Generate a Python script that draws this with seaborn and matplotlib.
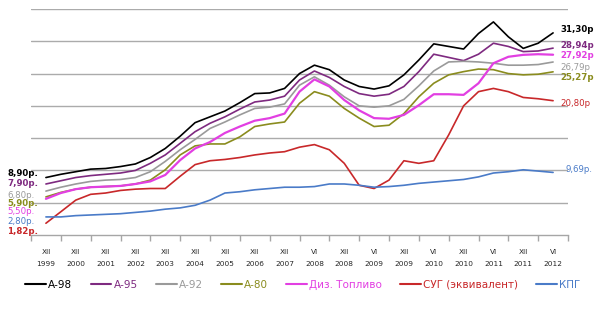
import numpy as np
import pandas as pd
import matplotlib
matplotlib.use("Agg")
import matplotlib.pyplot as plt
import seaborn as sns
from matplotlib.lines import Line2D

# ---- data ----
months = ["XII", "XII", "XII", "XII", "XII", "XII", "XII", "XII", "XII",
          "VI", "XII", "VI", "XII", "VI", "XII", "VI", "XII", "VI"]
years = ["1999", "2000", "2001", "2002", "2003", "2004", "2005", "2006", "2007",
         "2008", "2008", "2009", "2009", "2010", "2010", "2011", "2011", "2012"]
# half-period sampling points (category index)
t = [i / 2 for i in range(35)]

a98 = [8.90, 9.4, 9.8, 10.2, 10.3, 10.6, 11.0, 12.0, 13.4, 15.3, 17.4, 18.3, 19.2, 20.5, 21.9, 22.0, 22.7,
       25.0, 26.3, 25.6, 24.0, 23.0, 22.6, 23.1, 24.8, 27.1, 29.6, 29.2, 28.8, 31.2, 33.0, 30.7, 28.9, 29.7, 31.30]
a95 = [7.90, 8.4, 8.9, 9.2, 9.4, 9.6, 10.0, 11.1, 12.4, 14.2, 16.0, 17.3, 18.3, 19.5, 20.6, 20.9, 21.5,
       24.0, 25.4, 24.4, 23.0, 21.9, 21.5, 21.8, 23.0, 25.3, 28.0, 27.5, 27.0, 28.0, 29.7, 29.2, 28.4, 28.5, 28.94]
a92 = [6.80, 7.4, 7.9, 8.3, 8.5, 8.6, 8.9, 9.8, 11.4, 13.2, 14.8, 16.5, 17.5, 18.6, 19.6, 19.8, 20.3,
       23.2, 24.5, 23.2, 21.4, 20.0, 19.8, 20.0, 21.0, 23.1, 25.4, 26.8, 26.9, 26.8, 26.6, 26.3, 26.3, 26.4, 26.79]
a80 = [5.90, 6.6, 7.1, 7.4, 7.5, 7.6, 7.9, 8.5, 10.1, 12.4, 13.8, 14.1, 14.1, 15.2, 16.8, 17.2, 17.5,
       20.4, 22.2, 21.5, 19.6, 18.1, 16.8, 17.0, 18.8, 21.4, 23.5, 24.8, 25.3, 25.7, 25.6, 25.0, 24.8, 24.9, 25.27]
diesel = [5.60, 6.5, 7.1, 7.4, 7.5, 7.6, 7.9, 8.3, 9.3, 11.6, 13.4, 14.4, 15.8, 16.8, 17.7, 18.1, 18.8,
          22.2, 24.1, 23.0, 20.9, 19.3, 18.1, 18.0, 18.6, 20.1, 21.8, 21.8, 21.7, 23.5, 26.6, 27.6, 27.9, 28.0, 27.92]
sug = [1.82, 3.6, 5.4, 6.3, 6.5, 6.9, 7.1, 7.2, 7.2, 9.1, 10.9, 11.5, 11.7, 12.0, 12.4, 12.7, 12.9,
       13.6, 14.0, 13.2, 11.1, 7.7, 7.2, 8.5, 11.5, 11.1, 11.5, 15.5, 20.0, 22.2, 22.7, 22.2, 21.3, 21.1, 20.80]
kpg = [2.80, 2.8, 3.0, 3.1, 3.2, 3.3, 3.5, 3.7, 4.0, 4.2, 4.6, 5.4, 6.5, 6.7, 7.0, 7.2, 7.4,
       7.4, 7.5, 7.9, 7.9, 7.7, 7.4, 7.5, 7.7, 8.0, 8.2, 8.4, 8.6, 9.0, 9.6, 9.8, 10.1, 9.9, 9.69]

names = ["А-98", "А-95", "А-92", "А-80", "Диз. Топливо", "СУГ (эквивалент)", "КПГ"]
series = [a98, a95, a92, a80, diesel, sug, kpg]
colors = ["#000000", "#7E2A80", "#9A9A9A", "#8A8C1E", "#E23FE2", "#C8282A", "#4A7BC8"]
widths = [1.2, 1.2, 1.2, 1.2, 1.6, 1.2, 1.2]
start_lbl = ["8,90р.", "7,90р.", "6,80р.", "5,90р.", "5,50р.", "1,82р.", "2,80р."]
end_lbl = ["31,30р", "28,94р", "26,79р", "25,27р", "27,92р", "20,80р", "9,69р."]

rows = []
for n, s in zip(names, series):
    for x, v in zip(t, s):
        rows.append({"t": x, "price": v, "fuel": n})
df = pd.DataFrame(rows)

sns.set_theme(style="white")
plt.rcParams["font.family"] = ["DejaVu Sans"]

fig = plt.figure(figsize=(6.0, 3.11), dpi=100)
ax = fig.add_axes([31 / 600, 76 / 311, 537 / 600, 226 / 311])

for n, c, w in zip(names, colors, widths):
    sns.lineplot(data=df[df["fuel"] == n], x="t", y="price", color=c, lw=w,
                 ax=ax, legend=False, sort=False)

ax.set_xlim(-0.5, 17.5)
ax.set_ylim(0, 35)
ax.set_yticks([5, 10, 15, 20, 25, 30, 35])
ax.yaxis.grid(True, color="#ABABAB", lw=1.0)
ax.set_axisbelow(True)
ax.tick_params(axis="y", left=False, labelleft=False)
for sp in ["top", "right", "left"]:
    ax.spines[sp].set_visible(False)
ax.spines["bottom"].set_color("#A6A6A6")
ax.spines["bottom"].set_linewidth(1.0)
ax.set_xlabel("")
ax.set_ylabel("")

ax.set_xticks(range(18))
ax.set_xticklabels([f"{m}\n{y}" for m, y in zip(months, years)], fontsize=5.3,
                   linespacing=2.3)
ax.tick_params(axis="x", which="major", length=0, pad=10)
ax.set_xticks([i - 0.5 for i in range(19)], minor=True)
ax.tick_params(axis="x", which="minor", length=4, color="#A6A6A6", width=1.0, bottom=True)

# start labels (left) by pixel rows
left_y = [173, 184, 195, 203, 211, 231, 222]
left_bold = [True, True, False, True, False, True, False]
for lbl, c, yy, b in zip(start_lbl, colors, left_y, left_bold):
    fig.text(7 / 600, 1 - yy / 311, lbl, color=c, fontsize=6.2,
             fontweight="bold" if b else "normal", va="center", ha="left")

right_y = [29, 45, 67, 78, 56, 104, 170]
right_x = [560, 560, 560, 560, 560, 560, 565]
right_bold = [True, True, False, True, True, False, False]
for lbl, c, yy, xx, b in zip(end_lbl, colors, right_y, right_x, right_bold):
    fig.text(xx / 600, 1 - yy / 311, lbl, color=c, fontsize=6.2,
             fontweight="bold" if b else "normal", va="center", ha="left")

handles = [Line2D([0], [0], color=c, lw=1.5) for c in colors]
leg = fig.legend(handles, names, loc="center", bbox_to_anchor=(0.505, 1 - 285 / 311),
                 ncol=7, frameon=False, fontsize=7.5, handlelength=2.0,
                 handletextpad=0.2, columnspacing=1.75)
for txt, c in zip(leg.get_texts(), colors):
    txt.set_color(c)

fig.savefig("out.png", dpi=100)
